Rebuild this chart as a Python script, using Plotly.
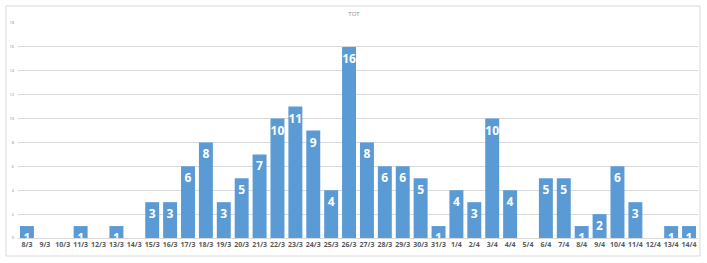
import plotly.graph_objects as go

categories = ["8/3","9/3","10/3","11/3","12/3","13/3","14/3","15/3","16/3","17/3","18/3","19/3","20/3",
              "21/3","22/3","23/3","24/3","25/3","26/3","27/3","28/3","29/3","30/3","31/3","1/4","2/4",
              "3/4","4/4","5/4","6/4","7/4","8/4","9/4","10/4","11/4","12/4","13/4","14/4"]
values = [1,0,0,1,0,1,0,3,3,6,8,3,5,7,10,11,9,4,16,8,6,6,5,1,4,3,10,4,0,5,5,1,2,6,3,0,1,1]
y_ticks = [0,2,4,6,8,10,12,14,16,18]
title_text = "TOT"

labels = [str(v) if v > 0 else "" for v in values]

W, H = 707, 263
ml, mr, mt, mb = 18, 9, 23, 25
pw, ph = W - ml - mr, H - mt - mb

fig = go.Figure(go.Bar(
    x=categories, y=values, text=labels,
    marker=dict(color="#5B9BD5", line=dict(width=0)),
    textposition="inside", insidetextanchor="end", constraintext="none",
    textfont=dict(family="Open Sans, Arial, sans-serif", size=12, color="white", weight="bold"),
    textangle=0, cliponaxis=True,
))

fig.update_layout(
    width=W, height=H, margin=dict(l=ml, r=mr, t=mt, b=mb),
    paper_bgcolor="white", plot_bgcolor="white",
    bargap=0.22, showlegend=False,
    title=dict(text=title_text, x=354 / W, xanchor="center",
               y=1 - 14 / H, yanchor="middle",
               font=dict(family="Open Sans, Arial, sans-serif", size=6, color="#8c8c8c")),
    xaxis=dict(type="category", showgrid=False, showline=True, linecolor="#d9d9d9", linewidth=1,
               ticks="", tickfont=dict(family="Open Sans, Arial, sans-serif", size=7, color="#595959",
                                       weight="bold"),
               tickangle=0, automargin=False),
    yaxis=dict(range=[0, 18], tickvals=y_ticks, showgrid=True, gridcolor="#d9d9d9", gridwidth=1,
               zeroline=False, ticks="", ticklabelstandoff=3,
               tickfont=dict(family="Open Sans, Arial, sans-serif", size=4, color="#8c8c8c"),
               automargin=False),
    shapes=[dict(type="rect", xref="paper", yref="paper",
                 x0=(6 - ml) / pw, x1=(700 - ml) / pw,
                 y0=(mt + ph - 256) / ph, y1=(mt + ph - 6) / ph,
                 line=dict(color="#d9d9d9", width=1), fillcolor="rgba(0,0,0,0)", layer="below")],
)

fig.write_html("out.html")
